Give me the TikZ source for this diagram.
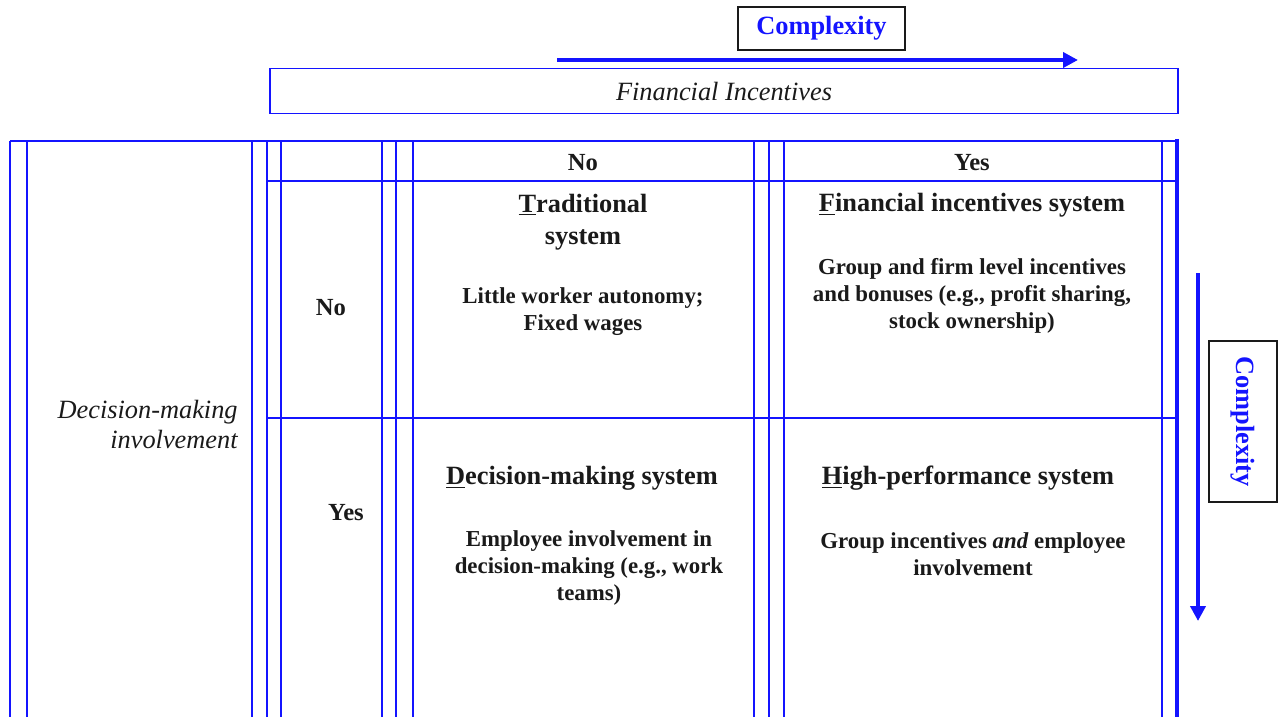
\documentclass[tikz,border=0pt]{standalone}
\usepackage{fontspec}
\setmainfont{Liberation Serif}
\usetikzlibrary{arrows.meta,positioning}
\definecolor{gridBlue}{HTML}{1414FF}
\definecolor{ink}{HTML}{1A1A1A}
\newcommand{\CellTitle}{\fontsize{15}{18.2}\selectfont\bfseries}
\newcommand{\CellBody}{\fontsize{13}{15.4}\selectfont\bfseries}
\newcommand{\AxisLabel}{\fontsize{15}{17.6}\selectfont\itshape}
\newcommand{\HeadLabel}{\fontsize{14}{16}\selectfont\bfseries}
\newcommand{\CxLabel}{\fontsize{15}{17}\selectfont\bfseries}
\tikzset{
  grid line/.style={gridBlue, line width=0.8pt},
  grid line thick/.style={gridBlue, line width=1.8pt},
  complexity arrow/.style={
    -{Triangle[length=3mm,width=3mm]},
    gridBlue, line width=2.2pt
  },
  complexity box/.style={
    draw=ink, line width=0.9pt, text=gridBlue, font=\CxLabel,
    inner sep=0pt
  },
  cell title/.style={font=\CellTitle, text=ink, align=center, inner sep=1pt},
  cell body/.style={font=\CellBody, text=ink, align=center, inner sep=1pt},
}

\begin{document}
\begin{tikzpicture}[x=1mm,y=1mm]
  \useasboundingbox (0,0) rectangle (255.8,143.4);

  % Complexity, horizontal
  \node[complexity box, minimum width=33.4mm, minimum height=8.6mm] (cxTop) at (164.3,137.7) {Complexity};
  \coordinate (cxTopA) at (111.4,131.4);
  \coordinate (cxTopB) at (215.6,131.4);
  \draw[complexity arrow] (cxTopA) -- (cxTopB);

  % Financial Incentives header box
  \node[draw=gridBlue, line width=0.8pt, minimum width=181.6mm, minimum height=9mm,
        font=\AxisLabel, text=ink, inner sep=0pt] (fin) at (144.8,125.2) {Financial Incentives};

  % Table rules
  \draw[grid line] (2,115.2) -- (235.4,115.2);
  \foreach \x in {2,5.4,50.4,53.4,56.2,76.4,79.2,82.6,150.8,153.8,156.8,232.4}
    \draw[grid line] (\x,115.2) -- (\x,0);
  \draw[grid line thick] (235.4,115.6) -- (235.4,0);
  \draw[grid line] (53.4,107.2) -- (235.4,107.2);
  \draw[grid line] (53.4,59.8) -- (235.4,59.8);

  % Column and row heads
  \node[font=\HeadLabel, text=ink] (colNo) at (116.6,110.8) {No};
  \node[font=\HeadLabel, text=ink] (colYes) at (194.4,110.8) {Yes};
  \node[font=\HeadLabel, text=ink] (rowNo) at (66.2,81.8) {No};
  \node[font=\HeadLabel, text=ink] (rowYes) at (69.2,40.8) {Yes};
  \node[font=\AxisLabel, text=ink, align=right, anchor=east, inner sep=0pt] (dmi) at (47.6,58.5) {%
    Decision-making\\involvement};

  % Cells
  \node[cell title] (tradT) at (116.6,99.0) {\underline{T}raditional\\system};
  \node[cell body] (tradB) at (116.6,81.0) {Little worker autonomy;\\Fixed wages};

  \node[cell title] (finT) at (194.4,102.3) {\underline{F}inancial incentives system};
  \node[cell body] (finB) at (194.4,84.2) {Group and firm level incentives\\
    and bonuses (e.g., profit sharing,\\stock ownership)};

  \node[cell title] (decT) at (116.4,47.7) {\underline{D}ecision-making system};
  \node[cell body] (decB) at (117.8,29.8) {Employee involvement in\\
    decision-making (e.g., work\\teams)};

  \node[cell title] (hpT) at (193.6,47.7) {\underline{H}igh-performance system};
  \node[cell body] (hpB) at (194.6,32.5) {Group incentives \textit{and} employee\\involvement};

  % Complexity, vertical
  \node[complexity box, rotate=-90, minimum width=32.2mm, minimum height=13.6mm] (cxSide) at (248.6,59.1) {Complexity};
  \coordinate (cxSideA) at (239.6,88.8);
  \coordinate (cxSideB) at (239.6,19.2);
  \draw[complexity arrow] (cxSideA) -- (cxSideB);
\end{tikzpicture}
\end{document}
